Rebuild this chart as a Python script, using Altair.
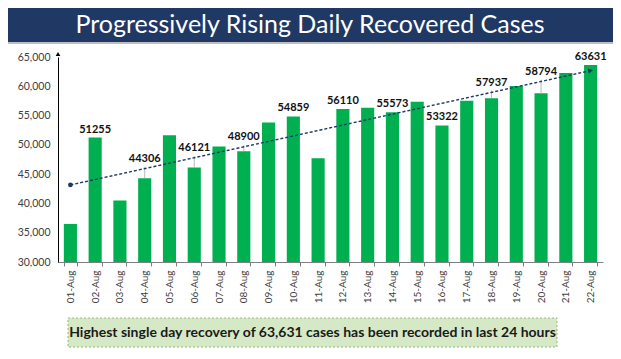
import altair as alt
import pandas as pd

dates = ["01-Aug", "02-Aug", "03-Aug", "04-Aug", "05-Aug", "06-Aug", "07-Aug", "08-Aug",
         "09-Aug", "10-Aug", "11-Aug", "12-Aug", "13-Aug", "14-Aug", "15-Aug", "16-Aug",
         "17-Aug", "18-Aug", "19-Aug", "20-Aug", "21-Aug", "22-Aug"]
values = [36500, 51255, 40500, 44306, 51650, 46121, 49700, 48900,
          53800, 54859, 47700, 56110, 56350, 55573, 57350, 53322,
          57550, 57937, 60050, 58794, 62250, 63631]
y_ticks = [30000, 35000, 40000, 45000, 50000, 55000, 60000, 65000]
title_text = "Progressively Rising Daily Recovered Cases"
note_text = "Highest single day recovery of 63,631 cases has been recorded in last 24 hours"

df = pd.DataFrame({"date": dates, "value": values, "idx": list(range(len(dates)))})
one = alt.Data(values=[{"k": 1}])

FONT = "Lato"
NAVY = "#1F3864"

x_enc = alt.X(
    "date:N", sort=dates,
    scale=alt.Scale(paddingInner=0.47, paddingOuter=0.235),
    axis=alt.Axis(title=None, labelAngle=270, labelFont=FONT, labelFontSize=10,
                  labelColor="#404040", domainColor="#7f7f7f", tickColor="#7f7f7f",
                  tickSize=4, tickBand="extent", labelPadding=4, labelOverlap=False),
)
y_axis = alt.Axis(title=None, values=y_ticks, format=",d", labelFont=FONT,
                  labelFontSize=10.5, labelColor="#404040", domainColor="#000000",
                  ticks=False, grid=False, labelPadding=8, labelOverlap=False,
                  labelFlush=False)
y_scale = alt.Scale(domain=[30000, 65000], zero=False)


def y_of(field):
    return alt.Y(f"{field}:Q", scale=y_scale, axis=y_axis)


y_enc = y_of("value")

bars = alt.Chart(df).mark_bar(color="#00B050").encode(
    x=x_enc, y=y_enc, y2=alt.datum(30000)
)

# least-squares trend evaluated at each day, used to lift labels clear of the trend line
lab_base = (alt.Chart(df)
            .transform_joinaggregate(mx="mean(idx)", my="mean(value)")
            .transform_calculate(cxy="(datum.idx-datum.mx)*(datum.value-datum.my)",
                                 cxx="(datum.idx-datum.mx)*(datum.idx-datum.mx)")
            .transform_joinaggregate(sxy="sum(cxy)", sxx="sum(cxx)")
            .transform_calculate(trend="datum.my + datum.sxy/datum.sxx*(datum.idx-datum.mx)")
            .transform_calculate(gap="datum.trend - datum.value")
            .transform_calculate(lab_y="datum.gap > 0 && datum.gap < 2500 ? datum.trend + 300 : datum.value")
            .transform_filter("datum.idx % 2 == 1"))

labels = lab_base.mark_text(
    font=FONT, fontWeight="bold", fontSize=11, baseline="bottom", dy=-3, color="#111111"
).encode(
    x=x_enc, y=y_of("lab_y"), text=alt.Text("value:Q", format="d")
)
leaders = lab_base.transform_filter("datum.gap > 0 && datum.gap < 2500").mark_rule(
    color="#a6a6a6", strokeWidth=0.8
).encode(x=x_enc, y=y_enc, y2="lab_y:Q")

reg = (alt.Chart(df)
       .transform_regression("idx", "value", method="linear")
       .transform_lookup(lookup="idx", from_=alt.LookupData(data=df, key="idx", fields=["date"]))
       .transform_filter("isValid(datum.date)"))

trend = reg.mark_line(color=NAVY, strokeDash=[3, 2], strokeWidth=1.4).encode(
    x=x_enc, y=y_enc
)
start_dot = reg.transform_filter("datum.idx == 0").mark_point(
    shape="circle", filled=True, color=NAVY, size=22, opacity=1
).encode(x=x_enc, y=y_enc)
end_arrow = reg.transform_filter("datum.idx > 0").mark_point(
    shape="triangle-right", filled=True, color=NAVY, size=30, angle=348, opacity=1, dx=-3
).encode(x=x_enc, y=y_enc)

axis_arrow = alt.Chart(one).mark_point(
    shape="triangle-up", filled=True, color="#000000", size=22, opacity=1
).encode(x=alt.value(0), y=alt.value(-3))

banner = alt.Chart(one).mark_rect(color=NAVY).encode(
    x=alt.value(-50), x2=alt.value(555), y=alt.value(-49), y2=alt.value(-15)
)
banner_shadow = alt.Chart(one).mark_rect(color="#bfbfbf").encode(
    x=alt.value(-50), x2=alt.value(555), y=alt.value(-15), y2=alt.value(-13)
)
title = alt.Chart(one).mark_text(
    text=title_text, font=FONT, fontSize=25, color="white", align="center", baseline="middle"
).encode(x=alt.value(252), y=alt.value(-32))

note_box = alt.Chart(one).mark_rect(
    fill="#D6E9C6", stroke="#93B77F", strokeDash=[2, 2], strokeWidth=1
).encode(x=alt.value(10), x2=alt.value(499), y=alt.value(261), y2=alt.value(290))
note = alt.Chart(one).mark_text(
    text=note_text, font=FONT, fontWeight="bold", fontSize=14, color="#1a1a1a",
    align="center", baseline="middle"
).encode(x=alt.value(254.5), y=alt.value(275.5))

chart = alt.layer(
    banner, banner_shadow, title, bars, leaders, trend, start_dot, end_arrow, labels,
    axis_arrow, note_box, note
).properties(
    width=545, height=205,
    padding={"left": 50, "top": 49, "right": 10, "bottom": 89},
    autosize=alt.AutoSizeParams(type="none"),
    background="white",
).configure_view(stroke=None)

chart.save("out.html", embed_options={"renderer": "svg", "actions": False})
